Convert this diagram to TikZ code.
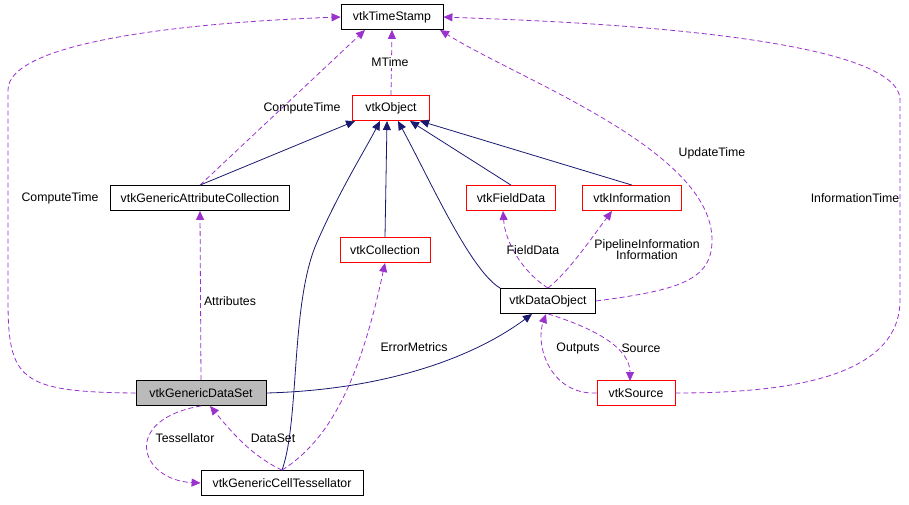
\documentclass[tikz,border=0pt]{standalone}
\usepackage{fontspec}
\setmainfont{Liberation Sans}
\usetikzlibrary{arrows.meta}
\definecolor{nv}{HTML}{191970}
\definecolor{pu}{HTML}{9A32CD}
\begin{document}
\begin{tikzpicture}[x=1pt,y=-1pt,font=\fontsize{12.3}{14}\selectfont,
 box/.style={draw=black,fill=white,minimum height=25,inner xsep=2,line width=0.8},
 rbox/.style={box,draw=red},
 inh/.style={draw=nv,line width=0.8,-{Triangle[length=9,width=8]}},
 use/.style={draw=pu,line width=0.8,dashed,dash pattern=on 5pt off 3pt,-{Triangle[length=9,width=8,fill=pu]}},
 lab/.style={inner sep=1,align=center}]
\useasboundingbox (0,0) rectangle (909,504);
\node[box,minimum width=102] (ts) at (392,17) {vtkTimeStamp};
\node[rbox,minimum width=77] (obj) at (391,108) {vtkObject};
\node[box,minimum width=179] (gac) at (200,198) {vtkGenericAttributeCollection};
\node[rbox,minimum width=89] (fd) at (511,198) {vtkFieldData};
\node[rbox,minimum width=99] (inf) at (632,198) {vtkInformation};
\node[rbox,minimum width=90] (col) at (385,250) {vtkCollection};
\node[box,minimum width=95] (dob) at (548,301) {vtkDataObject};
\node[box,fill=black!27,minimum width=130] (gds) at (201,393) {vtkGenericDataSet};
\node[rbox,minimum width=78] (src) at (636,393) {vtkSource};
\node[box,minimum width=162] (gct) at (282,483) {vtkGenericCellTessellator};
% inheritance
\draw[inh] (gac.north) -- (355,121);
\draw[inh] (fd.north) -- (410,121);
\draw[inh] (inf.north) -- (420,121);
\draw[inh] (col.north) -- (387,121);
\draw[inh] (dob.north west) .. controls (470,270) and (430,180) .. (398,121);
\draw[inh] (gct.north) .. controls (300,420) and (290,300) .. (318,240) .. controls (340,190) and (365,150) .. (380,121);
\draw[inh] (gds.east) .. controls (380,390) and (470,360) .. (532,314);
% usage
\draw[use] (obj.north) -- (ts.south);
\node[lab,fill=white] at (390,62) {MTime};
\draw[use] (gac.north) -- (365,30);
\node[lab] at (302,108) {ComputeTime};
\draw[use] (gds.west) .. controls (20,392) and (8,380) .. (8,300) -- (8,90) .. controls (8,40) and (200,22) .. (ts.west);
\node[lab] at (60,198) {ComputeTime};
\draw[use] (dob.east) .. controls (680,290) and (712,280) .. (712,240) .. controls (712,150) and (520,80) .. (440,30);
\node[lab] at (712,153) {UpdateTime};
\draw[use] (src.east) .. controls (780,393) and (900,380) .. (900,300) -- (900,100) .. controls (900,30) and (520,20) .. (ts.east);
\node[lab] at (855,198) {InformationTime};
\draw[use] (gds.north) -- (gac.south);
\node[lab] at (230,301) {Attributes};
\draw[use] (dob.north) .. controls (520,270) and (505,240) .. (503,211);
\node[lab] at (533,250) {FieldData};
\draw[use] (dob.north) .. controls (570,270) and (590,240) .. (612,211);
\node[lab] at (647,250) {PipelineInformation\\[-3pt]Information};
\draw[use] (gct.north) .. controls (330,440) and (360,380) .. (385,263);
\node[lab] at (414,347) {ErrorMetrics};
\draw[use] (src.west) .. controls (550,395) and (535,345) .. (546,314);
\node[lab] at (578,348) {Outputs};
\draw[use] (dob.south) .. controls (600,330) and (630,350) .. (630,381);
\node[lab] at (641,348) {Source};
\draw[use] (gct.north) .. controls (250,455) and (230,430) .. (210,406);
\node[lab] at (273,438) {DataSet};
\draw[use] (gds.south) .. controls (120,420) and (140,480) .. (gct.west);
\node[lab] at (185,438) {Tessellator};
\end{tikzpicture}
\end{document}
